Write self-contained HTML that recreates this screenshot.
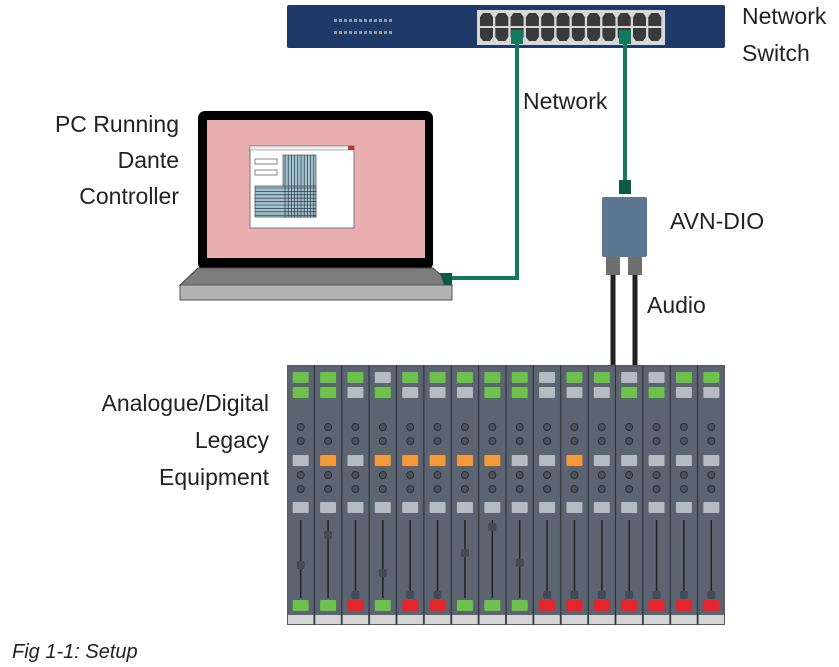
<!DOCTYPE html>
<html><head><meta charset="utf-8"><style>
html,body{margin:0;padding:0;background:#fff;width:839px;height:667px;overflow:hidden}
svg{display:block}
text{font-family:"Liberation Sans",sans-serif;font-size:23px;fill:#222}
</style></head><body>
<svg id="s" width="839" height="667" viewBox="0 0 839 667" xmlns="http://www.w3.org/2000/svg">
<rect x="287" y="5" width="438" height="43" rx="2" fill="#1f3a68"/>
<g id="leds"></g>
<rect x="477" y="10" width="188" height="35" fill="#d8d8d8"/>
<g id="ports"></g>
<polyline points="517,32 517,278 448,278" fill="none" stroke="#127a5c" stroke-width="4"/>
<line x1="625" y1="32" x2="625" y2="185" stroke="#127a5c" stroke-width="4"/>
<rect x="511" y="30" width="12" height="14" fill="#127a5c"/>
<rect x="619" y="30" width="12" height="14" fill="#127a5c"/>
<rect x="198" y="111" width="235" height="159" rx="7" fill="#000"/>
<rect x="207" y="120" width="218" height="138" fill="#e8aeb0"/>
<polygon points="198,268 433,268 452,285 180,285" fill="#7d7d7d" stroke="#444" stroke-width="1"/>
<rect x="180" y="285" width="272" height="15" fill="#b3b3b3" stroke="#555" stroke-width="1"/>
<polygon points="440,273 452,273 452,285 444,285" fill="#0e5b45"/>
<rect x="250" y="146" width="104" height="82" fill="#fff" stroke="#777" stroke-width="1"/>
<rect x="250" y="146" width="104" height="4" fill="#eee" stroke="#777" stroke-width="0.5"/>
<rect x="348" y="146" width="6" height="4" fill="#b33"/>
<rect x="255" y="159" width="22" height="5" fill="#fff" stroke="#666" stroke-width="0.8"/>
<rect x="255" y="170" width="22" height="5" fill="#fff" stroke="#666" stroke-width="0.8"/>
<rect x="283" y="155" width="33" height="62" fill="#9fc2cc" stroke="#333" stroke-width="0.6"/>
<rect x="255" y="186" width="61" height="31" fill="#9fc2cc" stroke="#333" stroke-width="0.6"/>
<g id="grid" stroke="#223" stroke-width="0.6"></g>
<rect x="619" y="180" width="12" height="14" fill="#0e5b45"/>
<rect x="602" y="197" width="45" height="60" rx="2" fill="#5b7792"/>
<rect x="606" y="257" width="14" height="18" fill="#6e6e6e"/>
<rect x="628" y="257" width="14" height="18" fill="#6e6e6e"/>
<line x1="613" y1="275" x2="613" y2="366" stroke="#222" stroke-width="5"/>
<line x1="635" y1="275" x2="635" y2="366" stroke="#222" stroke-width="5"/>
<g id="mix"></g>
<text x="742" y="24">Network</text>
<text x="742" y="61">Switch</text>
<text x="523" y="109">Network</text>
<text x="179" y="132" text-anchor="end">PC Running</text>
<text x="179" y="168" text-anchor="end">Dante</text>
<text x="179" y="204" text-anchor="end">Controller</text>
<text x="670" y="229">AVN-DIO</text>
<text x="647" y="313">Audio</text>
<text x="269" y="411" text-anchor="end">Analogue/Digital</text>
<text x="269" y="448" text-anchor="end">Legacy</text>
<text x="269" y="485" text-anchor="end">Equipment</text>
<text x="12" y="658" style="font-style:italic;font-size:20px">Fig 1-1: Setup</text>
</svg>
<script>
var NS="http://www.w3.org/2000/svg";
function el(p,t,a){var e=document.createElementNS(NS,t);for(var k in a)e.setAttribute(k,a[k]);p.appendChild(e);return e;}
var leds=document.getElementById('leds');
for(var r=0;r<2;r++)for(var i=0;i<12;i++)el(leds,'rect',{x:334+i*5,y:19+r*12,width:3,height:3,fill:(r==1&&(i==1||i==9))?'#c9a23a':'#8a9bb8'});
var ports=document.getElementById('ports');
for(var r=0;r<2;r++)for(var i=0;i<12;i++){var x=480+i*15.3,y=r?28:13;
 el(ports,'path',{d:r?('M'+x+' '+y+'h13v9l-3 4h-7l-3-4z'):('M'+x+' '+(y+13)+'h13v-9l-3-4h-7l-3 4z'),fill:'#3a3a3a'});}
var g=document.getElementById('grid');
for(var i=0;i<10;i++)el(g,'line',{x1:285+i*3.2,y1:155,x2:285+i*3.2,y2:217});
for(var i=0;i<9;i++)el(g,'line',{x1:255,y1:188+i*3.4,x2:316,y2:188+i*3.4});
var m=document.getElementById('mix');
el(m,'rect',{x:287,y:365,width:438,height:260,fill:'#545c68'});
var G='#6cc24a',g2='#b6bac2',O='#f59a3a',R='#e8232a';
var t1="GGGgGGGGGgGGggGG",t2="GGgGgggGGgggGGgg",t3="gOgOOOOOggOggggg",t4="GGRGRRGGGRRRRRRR";
var fy=[565,535,595,573,595,595,553,527,563,595,595,595,595,595,595,595];
function c(ch){return ch=='G'?G:ch=='O'?O:ch=='R'?R:g2;}
var w=438/16;
for(var i=0;i<16;i++){var x=287+i*w,cx=x+w/2;
 el(m,'rect',{x:x+1,y:367,width:w-2,height:256,fill:'#5b6470'});
 if(i)el(m,'line',{x1:x,y1:365,x2:x,y2:625,stroke:'#2e333b','stroke-width':1});
 el(m,'rect',{x:cx-8,y:372,width:16,height:11,rx:1,fill:c(t1[i])});
 el(m,'rect',{x:cx-8,y:387,width:16,height:11,rx:1,fill:c(t2[i])});
 [427,441,475,489].forEach(function(y){el(m,'circle',{cx:cx,cy:y,r:3.5,fill:'#4a525c',stroke:'#2a2f36','stroke-width':1});});
 el(m,'rect',{x:cx-8,y:455,width:16,height:11,rx:1,fill:c(t3[i])});
 el(m,'rect',{x:cx-8,y:502,width:16,height:11,rx:1,fill:c(g2)});
 el(m,'line',{x1:cx,y1:520,x2:cx,y2:598,stroke:'#222','stroke-width':1.5});
 el(m,'rect',{x:cx-4,y:fy[i]-4,width:8,height:8,rx:2,fill:'#444b54'});
 el(m,'rect',{x:cx-8,y:600,width:16,height:11,rx:1,fill:c(t4[i])});
 el(m,'rect',{x:x+1,y:615,width:w-2,height:9,fill:'#d4d4d4'});
}
</script>
</body></html>
